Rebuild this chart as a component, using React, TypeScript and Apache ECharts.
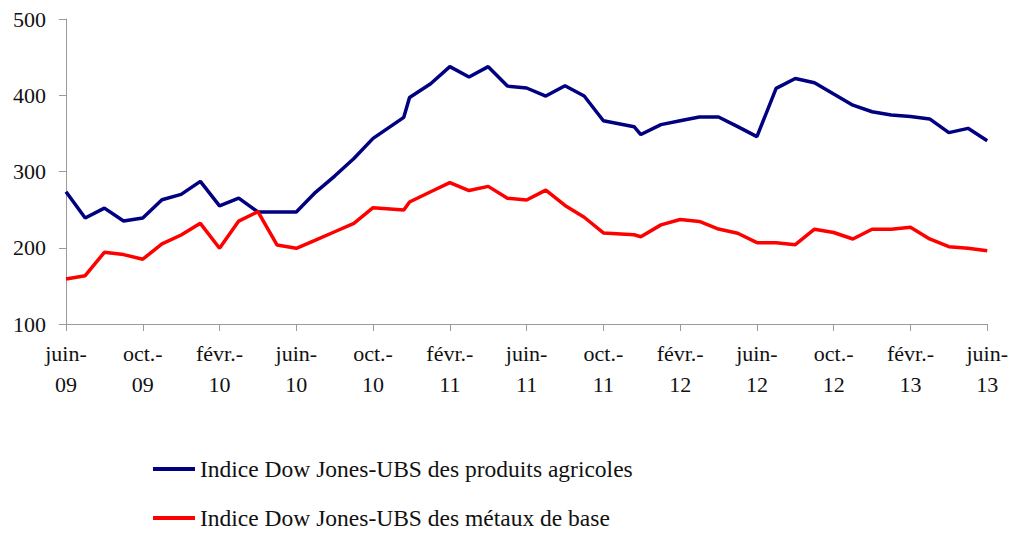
import React, { useEffect, useRef } from "react";
import * as echarts from "echarts";

// month offsets from juin-09 (date axis positions of the observations)
const monthPos = [
  0, 1, 2, 3, 4, 5, 6, 7, 8, 9, 10, 11, 12, 13, 14, 15, 16, 17.6, 17.9,
  19, 20, 21, 22, 23, 24, 25, 26, 27, 28, 29.6, 29.95,
  31, 32, 33, 34, 35, 36, 37, 38, 39, 40, 41, 42, 43, 44, 45, 46, 47, 48,
];

const agricoles = [
  273.5, 239, 252, 235, 239, 263, 270, 287, 255, 265, 247, 247, 247,
  272.7, 294, 317, 343.5, 371, 397,
  415, 437.5, 424, 437.5, 412, 409.5, 399, 412.5, 399, 366.5,
  358.8, 348.5,
  361.5, 366.6, 371.5, 371.5, 358.8, 345.7, 409, 422, 416.5, 401.6, 387,
  378.4, 374, 372, 369, 351, 356.6, 340.4,
];

const metaux = [
  159, 163.4, 194, 191, 185, 205, 216.7, 232, 199.3, 235, 247.3, 203.6, 199.3,
  210, 221, 232, 252.5, 249.5, 260,
  273.5, 285.5, 275, 280.5, 265, 262.6, 275.5, 255.5, 240, 219.5,
  217, 214.5,
  230, 237, 234.5, 224.5, 219, 206.7, 206.7, 204, 224.3, 220, 211.5,
  224.3, 224.3, 227, 211.5, 201.4, 199.3, 196,
];

const tickLabels = [
  "juin-\n09", "oct.-\n09", "févr.-\n10", "juin-\n10", "oct.-\n10",
  "févr.-\n11", "juin-\n11", "oct.-\n11", "févr.-\n12", "juin-\n12",
  "oct.-\n12", "févr.-\n13", "juin-\n13",
];

const seriesNames = [
  "Indice Dow Jones-UBS des produits agricoles",
  "Indice Dow Jones-UBS des métaux de base",
];

const FONT = "'Liberation Serif', 'Times New Roman', serif";

export default function App() {
  const ref = useRef<HTMLDivElement>(null);
  useEffect(() => {
    if (!ref.current) return;
    const chart = echarts.init(ref.current, null, { renderer: "svg" });
    const axisColor = "#9a9a9a";
    const legendBase = {
      orient: "horizontal",
      left: 148,
      itemWidth: 42,
      itemHeight: 4,
      icon: "rect",
      textStyle: { fontFamily: FONT, fontSize: 23.5, color: "#111" },
    };
    chart.setOption({
      animation: false,
      backgroundColor: "#ffffff",
      grid: { left: 66, right: 23, top: 19, bottom: 209, containLabel: false },
      legend: [
        { ...legendBase, top: 452, data: [seriesNames[0]] },
        { ...legendBase, top: 501, data: [seriesNames[1]] },
      ],
      xAxis: {
        type: "value",
        min: 0,
        max: 48,
        interval: 4,
        axisLine: { show: true, lineStyle: { color: axisColor, width: 1 } },
        axisTick: { show: true, length: 7, lineStyle: { color: axisColor } },
        splitLine: { show: false },
        axisLabel: {
          margin: 14,
          fontFamily: FONT,
          fontSize: 22,
          lineHeight: 31,
          color: "#111",
          formatter: (v: number) => tickLabels[Math.round(v / 4)] ?? "",
        },
      },
      yAxis: {
        type: "value",
        min: 100,
        max: 500,
        interval: 100,
        axisLine: { show: true, lineStyle: { color: axisColor, width: 1 } },
        axisTick: { show: true, length: 7, lineStyle: { color: axisColor } },
        splitLine: { show: false },
        axisLabel: {
          margin: 20,
          fontFamily: FONT,
          fontSize: 22,
          color: "#111",
        },
      },
      series: [
        {
          name: seriesNames[0],
          type: "line",
          symbol: "none",
          data: monthPos.map((m, i) => [m, agricoles[i]]),
          itemStyle: { color: "#000080" },
          lineStyle: { color: "#000080", width: 3.5 },
        },
        {
          name: seriesNames[1],
          type: "line",
          symbol: "none",
          data: monthPos.map((m, i) => [m, metaux[i]]),
          itemStyle: { color: "#ff0000" },
          lineStyle: { color: "#ff0000", width: 3.5 },
        },
      ],
    });
    return () => chart.dispose();
  }, []);
  return (
    <div
      ref={ref}
      style={{ position: "fixed", left: 0, top: 0, width: 1011, height: 533 }}
    />
  );
}
